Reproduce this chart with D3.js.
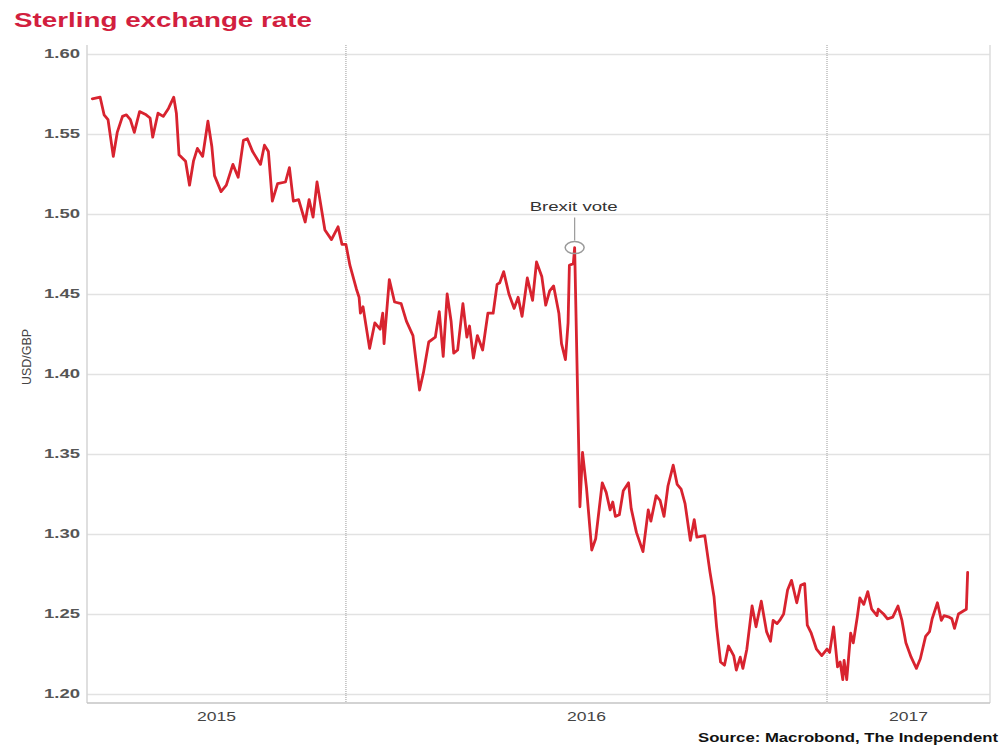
<!DOCTYPE html>
<html>
<head>
<meta charset="utf-8">
<script src="https://cdn.jsdelivr.net/npm/d3@7"></script>
<style>
  html, body { margin: 0; padding: 0; background: #ffffff; }
  svg { display: block; }
</style>
</head>
<body>
<svg id="chart" width="1005" height="749"></svg>
<script>
// ---------------- DATA ----------------
const titleText = "Sterling exchange rate";
const yAxisTitle = "USD/GBP";
const sourceText = "Source: Macrobond, The Independent";
const annotationLabel = "Brexit vote";
const annotationDate = "2016-06-23";

const xDomainDates = ["2015-06-18", "2017-05-05"];
const yearLabels = ["2015", "2016", "2017"];
const yearBoundaries = ["2016-01-01", "2017-01-01"];
const yTicks = [1.20, 1.25, 1.30, 1.35, 1.40, 1.45, 1.50, 1.55, 1.60];

const dates = [
  "2015-06-22","2015-06-28","2015-07-01","2015-07-04","2015-07-08","2015-07-11","2015-07-15","2015-07-18",
  "2015-07-21","2015-07-24","2015-07-28","2015-08-02","2015-08-05","2015-08-07","2015-08-11","2015-08-15",
  "2015-08-19","2015-08-23","2015-08-25","2015-08-27","2015-09-01","2015-09-04","2015-09-07","2015-09-10",
  "2015-09-14","2015-09-18","2015-09-21","2015-09-23","2015-09-28","2015-10-02","2015-10-07","2015-10-11",
  "2015-10-15","2015-10-18","2015-10-22","2015-10-28","2015-10-31","2015-11-03","2015-11-06","2015-11-10",
  "2015-11-16","2015-11-19","2015-11-22","2015-11-26","2015-12-01","2015-12-04","2015-12-07","2015-12-10",
  "2015-12-16","2015-12-21","2015-12-26","2015-12-29","2016-01-01","2016-01-04","2016-01-09","2016-01-11",
  "2016-01-12","2016-01-14","2016-01-19","2016-01-23","2016-01-27","2016-01-29","2016-01-30","2016-02-03",
  "2016-02-07","2016-02-12","2016-02-16","2016-02-21","2016-02-26","2016-02-29","2016-03-04","2016-03-09",
  "2016-03-12","2016-03-15","2016-03-18","2016-03-21","2016-03-23","2016-03-26","2016-03-30","2016-04-02",
  "2016-04-04","2016-04-07","2016-04-10","2016-04-14","2016-04-18","2016-04-22","2016-04-25","2016-04-27",
  "2016-04-30","2016-05-04","2016-05-08","2016-05-11","2016-05-14","2016-05-18","2016-05-22","2016-05-25",
  "2016-05-29","2016-06-01","2016-06-04","2016-06-07","2016-06-11","2016-06-13","2016-06-16","2016-06-18",
  "2016-06-19","2016-06-22","2016-06-23","2016-06-27","2016-06-29","2016-07-02","2016-07-06","2016-07-09",
  "2016-07-14","2016-07-17","2016-07-20","2016-07-22","2016-07-24","2016-07-27","2016-07-30","2016-08-03",
  "2016-08-05","2016-08-09","2016-08-14","2016-08-18","2016-08-20","2016-08-24","2016-08-27","2016-08-30",
  "2016-09-02","2016-09-06","2016-09-09","2016-09-12","2016-09-15","2016-09-19","2016-09-22","2016-09-24",
  "2016-09-30","2016-10-04","2016-10-07","2016-10-09","2016-10-12","2016-10-15","2016-10-18","2016-10-22",
  "2016-10-24","2016-10-27","2016-10-29","2016-11-01","2016-11-05","2016-11-08","2016-11-12","2016-11-16",
  "2016-11-19","2016-11-21","2016-11-24","2016-11-26","2016-11-29","2016-12-02","2016-12-05","2016-12-09",
  "2016-12-12","2016-12-15","2016-12-17","2016-12-20","2016-12-24","2016-12-28","2017-01-01","2017-01-03",
  "2017-01-06","2017-01-09","2017-01-11","2017-01-13","2017-01-14","2017-01-16","2017-01-19","2017-01-21",
  "2017-01-24","2017-01-26","2017-01-29","2017-02-01","2017-02-04","2017-02-08","2017-02-09","2017-02-13",
  "2017-02-16","2017-02-20","2017-02-24","2017-02-27","2017-03-02","2017-03-06","2017-03-10","2017-03-13",
  "2017-03-17","2017-03-20","2017-03-22","2017-03-26","2017-03-29","2017-03-31","2017-04-04","2017-04-06",
  "2017-04-08","2017-04-11","2017-04-15","2017-04-17","2017-04-18"
];

const usdGbp = [
  1.572,1.573,1.562,1.559,1.536,1.551,1.561,1.562,
  1.559,1.551,1.564,1.562,1.560,1.548,1.563,1.561,
  1.566,1.573,1.563,1.537,1.533,1.518,1.533,1.541,
  1.536,1.558,1.542,1.524,1.514,1.518,1.531,1.523,
  1.546,1.547,1.539,1.531,1.543,1.539,1.508,1.519,
  1.520,1.529,1.508,1.509,1.495,1.509,1.498,1.520,
  1.490,1.484,1.492,1.481,1.481,1.468,1.453,1.448,
  1.438,1.442,1.416,1.432,1.428,1.438,1.419,1.459,
  1.445,1.444,1.433,1.424,1.390,1.401,1.420,1.423,
  1.439,1.411,1.450,1.433,1.413,1.415,1.444,1.423,
  1.430,1.410,1.424,1.415,1.438,1.438,1.456,1.457,
  1.464,1.450,1.441,1.448,1.436,1.460,1.446,1.470,
  1.461,1.443,1.452,1.455,1.438,1.419,1.409,1.432,
  1.468,1.469,1.479,1.317,1.351,1.329,1.290,1.297,
  1.332,1.326,1.315,1.320,1.311,1.312,1.327,1.332,
  1.316,1.301,1.289,1.315,1.308,1.324,1.321,1.311,
  1.330,1.343,1.331,1.328,1.319,1.296,1.309,1.298,
  1.299,1.276,1.261,1.242,1.220,1.218,1.230,1.224,
  1.215,1.223,1.216,1.228,1.255,1.242,1.258,1.239,
  1.233,1.246,1.244,1.246,1.250,1.265,1.271,1.257,
  1.268,1.269,1.243,1.238,1.228,1.224,1.228,1.226,
  1.242,1.217,1.220,1.209,1.221,1.209,1.238,1.232,
  1.248,1.260,1.256,1.264,1.253,1.249,1.253,1.250,
  1.247,1.248,1.255,1.246,1.232,1.223,1.216,1.222,
  1.236,1.239,1.247,1.257,1.246,1.249,1.248,1.247,
  1.241,1.250,1.252,1.253,1.276
];

// ---------------- CHART ----------------
const parse = d3.timeParse("%Y-%m-%d");
const data = dates.map((d, i) => ({ date: parse(d), value: usdGbp[i] }));

const plot = { left: 87, right: 990, top: 45, bottom: 703 };
const FONT = "'Liberation Sans', Arial, Helvetica, sans-serif";

const svg = d3.select("#chart");
svg.append("rect").attr("width", 1005).attr("height", 749).attr("fill", "#ffffff");

const x = d3.scaleTime()
  .domain(xDomainDates.map(parse))
  .range([plot.left, plot.right]);

const y = d3.scaleLinear()
  .domain([1.20, 1.60])
  .range([694, 54]);

// Horizontal grid + y tick labels
const yAxis = d3.axisLeft(y)
  .tickValues(yTicks)
  .tickFormat(d3.format(".2f"))
  .tickSizeInner(-(plot.right - plot.left))
  .tickSizeOuter(0)
  .tickPadding(7);

const gy = svg.append("g")
  .attr("transform", `translate(${plot.left},0)`)
  .call(yAxis);
gy.select(".domain").remove();
gy.selectAll(".tick line")
  .attr("stroke", "#e2e2e2")
  .attr("stroke-width", 1.7);
gy.selectAll(".tick text")
  .attr("fill", "#555")
  .attr("font-family", FONT)
  .attr("font-size", 12)
  .attr("font-weight", "bold")
  .attr("textLength", 36)
  .attr("lengthAdjust", "spacingAndGlyphs");

// Year boundary dotted lines
svg.append("g").selectAll("line")
  .data(yearBoundaries.map(parse))
  .join("line")
  .attr("x1", d => x(d)).attr("x2", d => x(d))
  .attr("y1", plot.top).attr("y2", plot.bottom)
  .attr("stroke", "#9a9a9a")
  .attr("stroke-width", 1)
  .attr("stroke-dasharray", "1,1");

// Frame lines
svg.append("line")
  .attr("x1", plot.left).attr("x2", plot.left)
  .attr("y1", plot.top).attr("y2", plot.bottom)
  .attr("stroke", "#d4d4d4").attr("stroke-width", 1.5);
svg.append("line")
  .attr("x1", plot.right).attr("x2", plot.right)
  .attr("y1", plot.top).attr("y2", plot.bottom)
  .attr("stroke", "#dcdcdc").attr("stroke-width", 1.5);
svg.append("line")
  .attr("x1", plot.left).attr("x2", plot.right)
  .attr("y1", plot.bottom).attr("y2", plot.bottom)
  .attr("stroke", "#c4c4c4").attr("stroke-width", 1.5);

// Year labels centred in each visible year span
const [d0, d1] = x.domain();
svg.append("g").selectAll("text")
  .data(yearLabels)
  .join("text")
  .attr("x", yr => {
    const s = new Date(Math.max(parse(yr + "-01-01"), d0));
    const e = new Date(Math.min(parse((+yr + 1) + "-01-01"), d1));
    return (x(s) + x(e)) / 2;
  })
  .attr("y", 721)
  .attr("text-anchor", "middle")
  .attr("font-family", FONT)
  .attr("font-size", 13)
  .attr("fill", "#444")
  .attr("textLength", 39)
  .attr("lengthAdjust", "spacingAndGlyphs")
  .text(d => d);

// Y axis title
svg.append("text")
  .attr("transform", `translate(31,357) rotate(-90)`)
  .attr("text-anchor", "middle")
  .attr("font-family", FONT)
  .attr("font-size", 13)
  .attr("fill", "#444")
  .attr("textLength", 56)
  .attr("lengthAdjust", "spacingAndGlyphs")
  .text(yAxisTitle);

// Data line
const line = d3.line()
  .x(d => x(d.date))
  .y(d => y(d.value));

svg.append("path")
  .datum(data)
  .attr("d", line)
  .attr("fill", "none")
  .attr("stroke", "#d8232f")
  .attr("stroke-width", 2.8)
  .attr("stroke-linejoin", "round")
  .attr("stroke-linecap", "round");

// Brexit annotation
const ev = data.find(d => +d.date === +parse(annotationDate));
const ax = x(ev.date), ay = y(ev.value);
svg.append("ellipse")
  .attr("cx", ax).attr("cy", ay)
  .attr("rx", 9.5).attr("ry", 6)
  .attr("fill", "none")
  .attr("stroke", "#9a9a9a")
  .attr("stroke-width", 1.5);
svg.append("line")
  .attr("x1", ax).attr("x2", ax)
  .attr("y1", ay - 7).attr("y2", ay - 30)
  .attr("stroke", "#9a9a9a")
  .attr("stroke-width", 1.2);
svg.append("text")
  .attr("x", ax - 1).attr("y", ay - 37)
  .attr("text-anchor", "middle")
  .attr("font-family", FONT)
  .attr("font-size", 13)
  .attr("fill", "#333")
  .attr("textLength", 88)
  .attr("lengthAdjust", "spacingAndGlyphs")
  .text(annotationLabel);

// Title
svg.append("text")
  .attr("x", 14).attr("y", 27)
  .attr("font-family", FONT)
  .attr("font-size", 20)
  .attr("font-weight", "bold")
  .attr("fill", "#d21f3f")
  .attr("textLength", 298)
  .attr("lengthAdjust", "spacingAndGlyphs")
  .text(titleText);

// Source
svg.append("text")
  .attr("x", 998).attr("y", 742)
  .attr("text-anchor", "end")
  .attr("font-family", FONT)
  .attr("font-size", 12)
  .attr("font-weight", "bold")
  .attr("fill", "#111")
  .attr("textLength", 300)
  .attr("lengthAdjust", "spacingAndGlyphs")
  .text(sourceText);
</script>
</body>
</html>
